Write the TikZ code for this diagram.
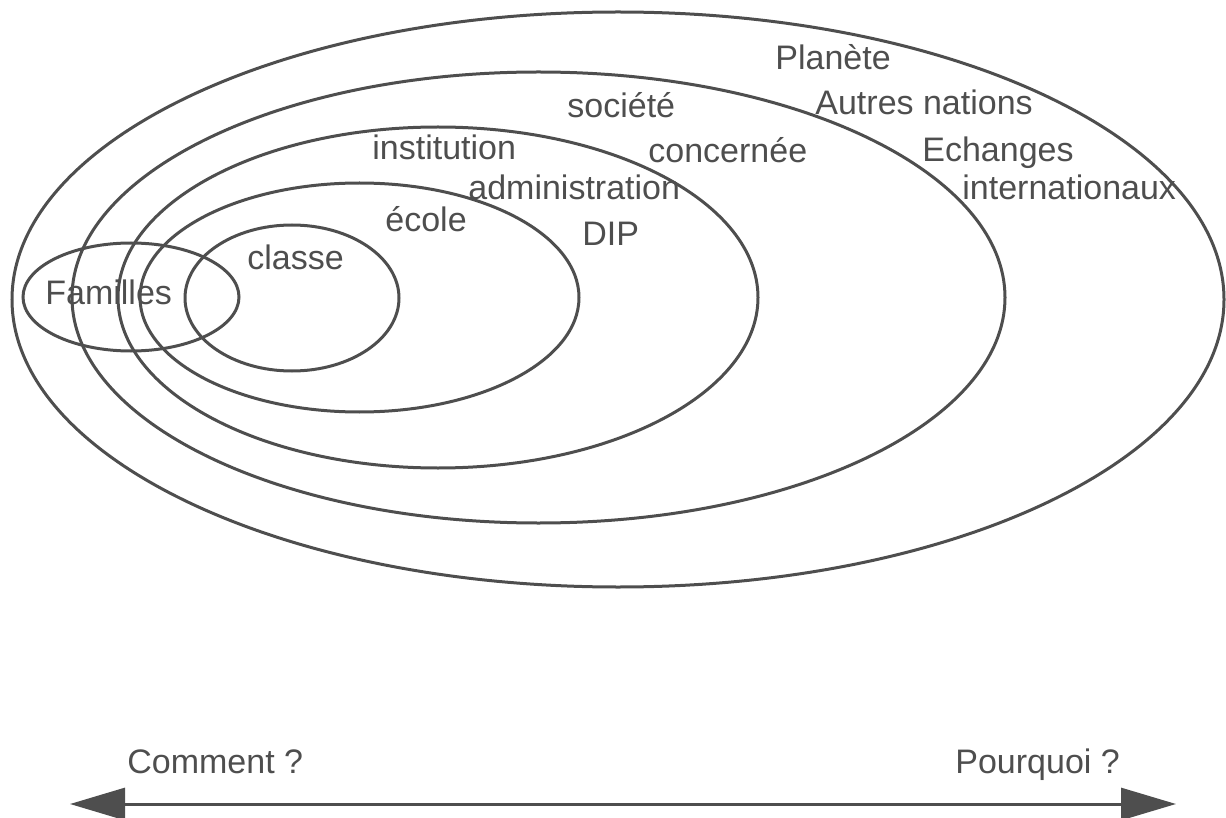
\documentclass[tikz,border=0pt]{standalone}
\usepackage{fontspec}
\setmainfont{Liberation Sans}
\usetikzlibrary{arrows.meta}
\definecolor{ink}{HTML}{4E4E4E}
\begin{document}
\begin{tikzpicture}[x=0.5pt,y=-0.5pt,
  ring/.style={draw=ink,line width=1.5pt},
  lbl/.style={anchor=base west,inner sep=0pt,text=ink,font=\fontsize{17}{20}\selectfont},
  axis/.style={draw=ink,line width=1.5pt,{Triangle[length=27.5pt,width=16pt,fill=ink]}-{Triangle[length=27.5pt,width=16pt,fill=ink]}}]
\useasboundingbox (0,0) rectangle (1226,818);
% ellipses
\draw[ring] (618,299.5) ellipse [x radius=606,y radius=287.5];
\draw[ring] (538.5,297.5) ellipse [x radius=466.5,y radius=225.5];
\draw[ring] (438,297.5) ellipse [x radius=320,y radius=170.5];
\draw[ring] (359.5,297.5) ellipse [x radius=219.5,y radius=114.5];
\draw[ring] (292,298) ellipse [x radius=107,y radius=73];
\draw[ring] (131,297) ellipse [x radius=108,y radius=54];
% labels
\node[lbl] (planete) at (775,70) {Planète};
\node[lbl] (societe) at (567,118) {société};
\node[lbl] (autres) at (815,115) {Autres nations};
\node[lbl] (institution) at (372,160) {institution};
\node[lbl] (concernee) at (648,163) {concernée};
\node[lbl] (echanges) at (922,162) {Echanges};
\node[lbl] (admin) at (468,200) {administration};
\node[lbl] (internat) at (962,200) {internationaux};
\node[lbl] (ecole) at (385,232) {école};
\node[lbl] (dip) at (582,246) {DIP};
\node[lbl] (classe) at (247,270) {classe};
\node[lbl] (familles) at (45,305) {Familles};
\node[lbl] (comment) at (127,773) {Comment ?};
\node[lbl] (pourquoi) at (955,773) {Pourquoi ?};
% axis
\coordinate (left) at (70,804);
\coordinate (right) at (1176,804);
\draw[axis] (left) -- (right);
\end{tikzpicture}
\end{document}
